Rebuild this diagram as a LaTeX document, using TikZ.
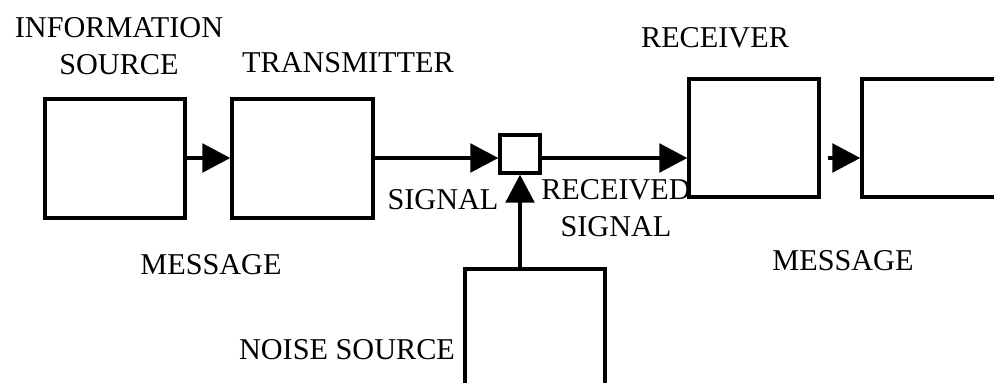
\documentclass[tikz,border=0pt]{standalone}
\usepackage{fontspec}
\setmainfont{Liberation Serif}
\usetikzlibrary{%
    arrows.meta,%
    calc,%
    positioning%
}

\tikzset{
    blk/.style={draw, line width=0.085cm, minimum width=3.5cm, minimum height=2.975cm, inner sep=0pt},
    lbl/.style={inner sep=0pt, align=center, font=\fontsize{21.5}{26.5}\selectfont},
    flow/.style={line width=0.08cm, -{Triangle[length=0.7cm,width=0.72cm]}}
}

\begin{document}
\begin{tikzpicture}[x=0.025cm, y=-0.025cm]

				\useasboundingbox (0,0) rectangle (994,382);
				\clip (0,0) rectangle (994,382);

				% blocks
				\node[blk] (src) at (115,158.5) {};
				\node[blk, minimum width=3.525cm] (tx) at (302.5,158.5) {};
				\node[blk, minimum width=1cm, minimum height=0.95cm] (add) at (520,154) {};
				\node[blk, minimum width=3.25cm, minimum height=2.95cm] (rx) at (754,138) {};
				\node[blk, minimum height=2.95cm] (dst) at (932,138) {};
				\node[blk] (noise) at (535,328.5) {};
				\coordinate (lvl) at (0,158);

				% connections
				\draw[flow] (src.east |- lvl) -- (lvl -| tx.west);
				\draw[flow] (tx.east |- lvl) -- (lvl -| add.west);
				\draw[flow] (add.east |- lvl) -- (lvl -| rx.west);
				\draw[flow, shorten <=0.175cm] (rx.east |- lvl) -- (lvl -| dst.west);
				\draw[flow] (noise.north -| add.south) -- (add.south);

				% labels
				\node[lbl] (srclbl) at (119,46) {INFORMATION\\SOURCE};
				\node[lbl] (txlbl) at (348,63) {TRANSMITTER};
				\node[lbl] (rxlbl) at (715,38) {RECEIVER};
				\node[lbl] (siglbl) at (443,200) {SIGNAL};
				\node[lbl] (rsiglbl) at (616,208) {RECEIVED\\SIGNAL};
				\node[lbl] (msg1) at (211,265) {MESSAGE};
				\node[lbl] (msg2) at (843,261) {MESSAGE};
				\node[lbl] (noiselbl) at (347,350) {NOISE SOURCE};
			\end{tikzpicture}
\end{document}
